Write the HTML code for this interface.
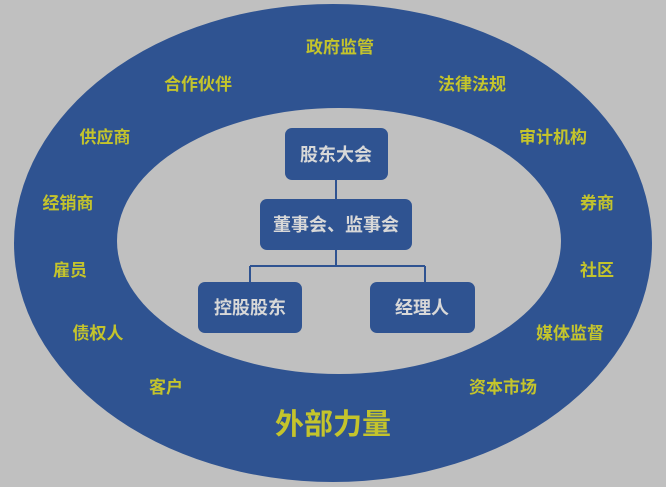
<!DOCTYPE html>
<html><head><meta charset="utf-8"><style>
body{margin:0;width:666px;height:487px;background:#c0c0c0;overflow:hidden;font-family:"Liberation Sans","Noto Sans CJK SC",sans-serif}
</style></head><body>
<svg width="666" height="487" viewBox="0 0 666 487" xmlns="http://www.w3.org/2000/svg" style="position:absolute;left:0;top:0">
<rect width="666" height="487" fill="#c0c0c0"/>
<ellipse cx="333" cy="243" rx="319" ry="239" fill="#2f5391"/>
<ellipse cx="339" cy="241" rx="222" ry="133" fill="#c0c0c0"/>
<g stroke="#2f5391" stroke-width="2" fill="none">
<path d="M336 180V199M336 250V266M250 266H425M250 266V282M425 266V282"/>
</g>
<g fill="#2f5391">
<rect x="285" y="128" width="103" height="52" rx="7"/>
<rect x="260" y="199" width="152" height="51" rx="7"/>
<rect x="198" y="282" width="104" height="51" rx="7"/>
<rect x="370" y="282" width="105" height="51" rx="7"/>
</g>
<g fill="#d8d8d8" font-size="18" font-weight="bold" text-anchor="middle" font-family="Liberation Sans, Noto Sans CJK SC, sans-serif">
<text x="336" y="161">股东大会</text>
<text x="336" y="231">董事会、监事会</text>
<text x="250" y="314">控股股东</text>
<text x="422" y="314">经理人</text>
</g>
<g fill="#c4c42c" font-size="17" font-weight="bold" text-anchor="middle" font-family="Liberation Sans, Noto Sans CJK SC, sans-serif">
<text x="340" y="53">政府监管</text>
<text x="198" y="90">合作伙伴</text>
<text x="472" y="90">法律法规</text>
<text x="105" y="143">供应商</text>
<text x="553" y="143">审计机构</text>
<text x="68" y="209">经销商</text>
<text x="597" y="209">券商</text>
<text x="70" y="276">雇员</text>
<text x="597" y="276">社区</text>
<text x="98" y="339">债权人</text>
<text x="570" y="339">媒体监督</text>
<text x="166" y="393">客户</text>
<text x="503" y="393">资本市场</text>
<text x="333" y="434" font-size="29">外部力量</text>
</g>
</svg>
</body></html>
